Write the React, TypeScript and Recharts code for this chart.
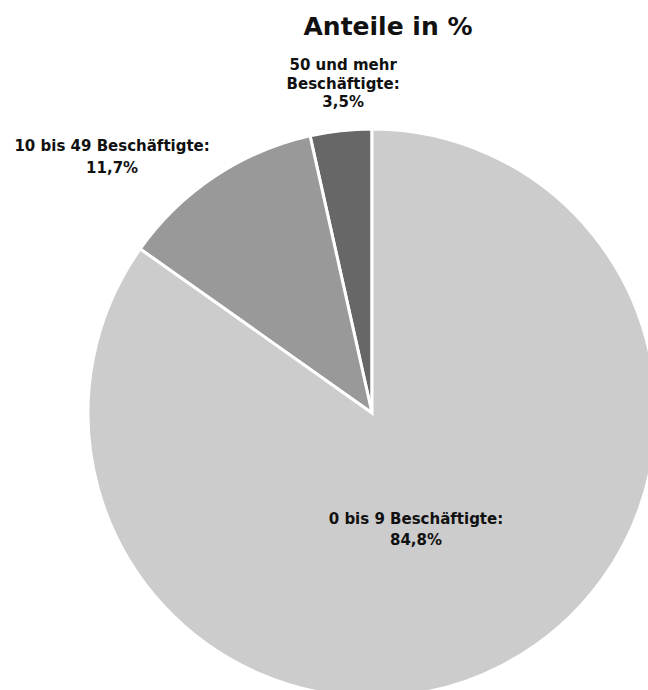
import React from "react";
import { PieChart, Pie, Cell } from "recharts";

const categories = ["50 und mehr Beschäftigte", "10 bis 49 Beschäftigte", "0 bis 9 Beschäftigte"];
const shares = [3.5, 11.7, 84.8];
const labelLines = [
  ["50 und mehr", "Beschäftigte:", "3,5%"],
  ["10 bis 49 Beschäftigte:", "11,7%"],
  ["0 bis 9 Beschäftigte:", "84,8%"],
];
const colors = ["#676767", "#999999", "#cccccc"];

const data = categories.map((name, i) => ({ name, value: shares[i] }));

// label placement: radial distance (px) and angle (deg) from pie centre, first-line baseline offset
const labelPlacement = [
  { dist: 331, angle: 95, lineGap: 18.5, first: -13 },
  { dist: 365, angle: 135.4, lineGap: 22, first: -6 },
  { dist: 125, angle: 290.6, lineGap: 21, first: -6 },
];

const FONT = "'DejaVu Sans', Verdana, sans-serif";
const RAD = Math.PI / 180;

const renderLabel = (props: any) => {
  const { cx, cy, index } = props;
  const p = labelPlacement[index];
  const x = cx + p.dist * Math.cos(p.angle * RAD);
  const y = cy - p.dist * Math.sin(p.angle * RAD);
  const lines = labelLines[index];
  return (
    <text
      x={x}
      y={y}
      textAnchor="middle"
      fontFamily={FONT}
      fontWeight="bold"
      fontSize={15}
      fill="#111111"
    >
      {lines.map((l, i) => (
        <tspan key={i} x={x} y={y + p.first + i * p.lineGap}>
          {l}
        </tspan>
      ))}
    </text>
  );
};

export default function App() {
  return (
    <div style={{ position: "absolute", left: 0, top: 0, width: 648, height: 690, background: "#fff", overflow: "hidden" }}>
      <PieChart width={648} height={690} margin={{ top: 0, right: 0, bottom: 0, left: 0 }}>
        <Pie
          data={data}
          dataKey="value"
          nameKey="name"
          cx={372}
          cy={413}
          outerRadius={284}
          startAngle={90}
          endAngle={450}
          stroke="#ffffff"
          strokeWidth={3}
          label={renderLabel}
          labelLine={false}
          isAnimationActive={false}
        >
          {data.map((d, i) => (
            <Cell key={d.name} fill={colors[i]} />
          ))}
        </Pie>
      </PieChart>
      <svg width={648} height={690} style={{ position: "absolute", left: 0, top: 0, pointerEvents: "none" }}>
        <text x={388} y={35} textAnchor="middle" fontFamily={FONT} fontWeight="bold" fontSize={25} fill="#111111">
          Anteile in %
        </text>
      </svg>
    </div>
  );
}
